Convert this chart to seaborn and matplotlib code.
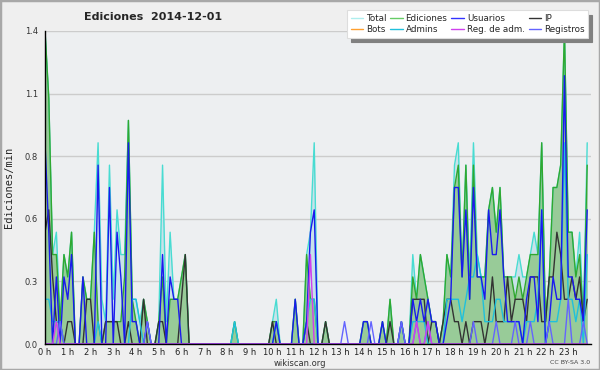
import pandas as pd
import seaborn as sns
import matplotlib.pyplot as plt
import numpy as np
from matplotlib.lines import Line2D
from matplotlib.patches import Rectangle
from matplotlib.ticker import MultipleLocator, FormatStrFormatter

# Ediciones por minuto, tramos de 10 min (12 valores = 2 horas por fila)
total = [
    1.4, 1.1, 0.4, 0.5, 0.1, 0.4, 0.3, 0.5, 0, 0, 0.3, 0.2,
    0.2, 0.5, 0.9, 0.2, 0.1, 0.8, 0.2, 0.6, 0.4, 0.4, 1.0, 0.2,
    0.2, 0.1, 0.2, 0.1, 0, 0, 0.1, 0.8, 0.1, 0.5, 0.2, 0.2,
    0.3, 0.4, 0, 0, 0, 0, 0, 0, 0, 0, 0, 0,
    0, 0, 0.1, 0, 0, 0, 0, 0, 0, 0, 0, 0,
    0.1, 0.2, 0, 0, 0, 0, 0.2, 0, 0, 0.4, 0.5, 0.9,
    0, 0, 0.1, 0, 0, 0, 0, 0, 0, 0, 0, 0,
    0.1, 0.1, 0, 0, 0, 0.1, 0, 0.2, 0, 0, 0.1, 0,
    0, 0.4, 0.2, 0.4, 0.3, 0.2, 0.1, 0.1, 0, 0.1, 0.4, 0.3,
    0.8, 0.9, 0.3, 0.8, 0.3, 0.9, 0.4, 0.3, 0.3, 0.6, 0.7, 0.5,
    0.7, 0.3, 0.3, 0.3, 0.3, 0.4, 0.3, 0.3, 0.4, 0.5, 0.4, 0.9,
    0.1, 0.3, 0.7, 0.7, 0.8, 1.4, 0.5, 0.5, 0.3, 0.5, 0.1, 0.9,
]
ediciones = [
    1.4, 1.1, 0.4, 0.4, 0.1, 0.4, 0.3, 0.5, 0, 0, 0.3, 0.2,
    0.2, 0.5, 0.1, 0, 0.1, 0.1, 0.1, 0.1, 0.1, 0.3, 1.0, 0.2,
    0.1, 0, 0.2, 0.1, 0, 0, 0.1, 0.3, 0, 0.2, 0.2, 0.2,
    0.3, 0.4, 0, 0, 0, 0, 0, 0, 0, 0, 0, 0,
    0, 0, 0.1, 0, 0, 0, 0, 0, 0, 0, 0, 0,
    0.1, 0.1, 0, 0, 0, 0, 0.2, 0, 0, 0.4, 0.2, 0.2,
    0, 0, 0.1, 0, 0, 0, 0, 0, 0, 0, 0, 0,
    0.1, 0.1, 0, 0, 0, 0.1, 0, 0.2, 0, 0, 0.1, 0,
    0, 0.3, 0.2, 0.4, 0.3, 0.2, 0.1, 0.1, 0, 0.1, 0.4, 0.3,
    0.7, 0.8, 0.3, 0.8, 0.2, 0.8, 0.3, 0.3, 0.3, 0.6, 0.7, 0.5,
    0.7, 0.3, 0.3, 0.3, 0.2, 0.3, 0.2, 0.3, 0.4, 0.4, 0.4, 0.9,
    0.1, 0.3, 0.7, 0.7, 0.8, 1.4, 0.5, 0.5, 0.3, 0.4, 0.1, 0.8,
]
usuarios = [
    0.9, 0.5, 0, 0.3, 0, 0.3, 0.2, 0.4, 0, 0, 0.3, 0,
    0, 0, 0.8, 0, 0, 0.7, 0, 0.5, 0.3, 0, 0.9, 0.1,
    0.1, 0, 0, 0.1, 0, 0, 0, 0.4, 0, 0.3, 0.2, 0.2,
    0, 0, 0, 0, 0, 0, 0, 0, 0, 0, 0, 0,
    0, 0, 0, 0, 0, 0, 0, 0, 0, 0, 0, 0,
    0, 0.1, 0, 0, 0, 0, 0.2, 0, 0, 0.1, 0.5, 0.6,
    0, 0, 0, 0, 0, 0, 0, 0, 0, 0, 0, 0,
    0.1, 0.1, 0, 0, 0, 0.1, 0, 0, 0, 0, 0.1, 0,
    0, 0.2, 0.1, 0.2, 0.1, 0.2, 0.1, 0.1, 0, 0, 0.1, 0.2,
    0.7, 0.7, 0.3, 0.6, 0.2, 0.7, 0.3, 0.3, 0.2, 0.6, 0.4, 0.4,
    0.6, 0.3, 0.1, 0.1, 0.1, 0.1, 0, 0.2, 0.3, 0.3, 0.1, 0.6,
    0, 0.1, 0.3, 0.2, 0.2, 1.2, 0.3, 0.3, 0.2, 0.2, 0.1, 0.6,
]
ip = [
    0.5, 0.6, 0.3, 0.1, 0.1, 0, 0.1, 0.1, 0, 0, 0, 0.2,
    0.2, 0, 0, 0, 0.1, 0.1, 0.1, 0.1, 0, 0, 0.1, 0,
    0, 0, 0.2, 0, 0, 0, 0.1, 0.1, 0, 0, 0, 0,
    0.2, 0.4, 0, 0, 0, 0, 0, 0, 0, 0, 0, 0,
    0, 0, 0, 0, 0, 0, 0, 0, 0, 0, 0, 0,
    0.1, 0, 0, 0, 0, 0, 0, 0, 0, 0.1, 0, 0,
    0, 0, 0.1, 0, 0, 0, 0, 0, 0, 0, 0, 0,
    0, 0, 0, 0, 0, 0, 0, 0.1, 0, 0, 0, 0,
    0, 0.2, 0.2, 0.2, 0.2, 0, 0.1, 0.1, 0, 0.1, 0.2, 0.2,
    0.1, 0.1, 0, 0.1, 0, 0.1, 0.1, 0.1, 0, 0.1, 0.3, 0.1,
    0.1, 0.1, 0.3, 0.1, 0.2, 0.2, 0.2, 0.1, 0.3, 0.3, 0.3, 0.1,
    0.1, 0.3, 0.3, 0.5, 0.4, 0.2, 0.2, 0.3, 0.2, 0.3, 0.1, 0.2,
]
admins = [
    0.2, 0.2, 0.1, 0.1, 0.1, 0, 0, 0, 0, 0, 0, 0,
    0, 0, 0.1, 0, 0, 0, 0, 0, 0, 0, 0, 0.2,
    0.2, 0.1, 0, 0, 0, 0, 0, 0, 0, 0, 0, 0,
    0, 0, 0, 0, 0, 0, 0, 0, 0, 0, 0, 0,
    0, 0, 0.1, 0, 0, 0, 0, 0, 0, 0, 0, 0,
    0, 0.1, 0, 0, 0, 0, 0, 0, 0, 0.1, 0.2, 0.2,
    0, 0, 0, 0, 0, 0, 0, 0, 0, 0, 0, 0,
    0, 0, 0, 0, 0, 0, 0, 0, 0, 0, 0, 0,
    0, 0.1, 0.1, 0.1, 0.1, 0, 0, 0, 0, 0, 0.2, 0.2,
    0.2, 0.2, 0.1, 0.2, 0.3, 0.3, 0.4, 0.3, 0.1, 0.1, 0.1, 0.2,
    0.2, 0.1, 0.1, 0.1, 0.1, 0.1, 0, 0.1, 0.1, 0.1, 0.2, 0.6,
    0, 0.1, 0.1, 0.1, 0.2, 0.9, 0.2, 0.2, 0.1, 0.2, 0, 0.4,
]
registros = [
    0, 0, 0, 0, 0.1, 0, 0, 0, 0, 0, 0, 0,
    0, 0, 0, 0, 0, 0, 0, 0, 0, 0, 0, 0,
    0, 0, 0, 0.1, 0, 0, 0, 0, 0, 0, 0, 0,
    0, 0, 0, 0, 0, 0, 0, 0, 0, 0, 0, 0,
    0, 0, 0, 0, 0, 0, 0, 0, 0, 0, 0, 0,
    0, 0, 0, 0, 0, 0, 0, 0, 0, 0, 0, 0,
    0, 0, 0, 0, 0, 0, 0, 0.1, 0, 0, 0, 0,
    0, 0, 0.1, 0, 0, 0, 0, 0, 0, 0, 0.1, 0,
    0, 0, 0.1, 0, 0, 0.1, 0, 0, 0, 0, 0, 0,
    0, 0, 0, 0, 0, 0.1, 0, 0, 0, 0, 0, 0.1,
    0, 0, 0, 0, 0.1, 0, 0, 0, 0.1, 0, 0, 0,
    0, 0.1, 0, 0, 0, 0, 0.2, 0, 0, 0, 0.1, 0,
]
reg_adm = [0] * 144
for i, v in [(3, 0.1), (70, 0.4), (98, 0.1), (101, 0.1)]:
    reg_adm[i] = v
bots = [0] * 144

series = ['Total', 'Bots', 'Ediciones', 'Admins', 'Usuarios', 'Reg. de adm.', 'IP', 'Registros']
colors = {'Total': '#48dcd2', 'Ediciones': '#30a830', 'Usuarios': '#1a1aee', 'IP': '#333333',
          'Bots': '#ffa030', 'Admins': '#20c0dc', 'Reg. de adm.': '#d040ee', 'Registros': '#6464ff'}
legend_colors = dict(colors, Total='#aeeeee', Ediciones='#66cc66', Usuarios='#3333ff')

horas = np.arange(144) / 6
df = pd.DataFrame({'hora': horas, 'Total': total, 'Ediciones': ediciones, 'Usuarios': usuarios,
                   'IP': ip, 'Bots': bots, 'Admins': admins, 'Reg. de adm.': reg_adm,
                   'Registros': registros})
long = df.melt(id_vars='hora', var_name='serie', value_name='valor')

sns.set_style('white')
plt.rcParams['font.family'] = ['DejaVu Sans']

fig = plt.figure(figsize=(6, 3.7), dpi=100, facecolor='#efefef')
ax = fig.add_axes([45 / 600, 26 / 370, 546 / 600, 313 / 370])
ax.set_facecolor('#edeff1')

# areas
ax.fill_between(df['hora'], df['Total'], color='#c8e2ea', lw=0, zorder=1)
ax.fill_between(df['hora'], df['Ediciones'], color='#98cb98', lw=0, zorder=1.1)

orden = ['Bots', 'Total', 'Ediciones', 'IP', 'Admins', 'Usuarios', 'Registros', 'Reg. de adm.']
sns.lineplot(data=long, x='hora', y='valor', hue='serie', hue_order=orden, palette=colors,
             linewidth=1.0, legend=False, ax=ax, zorder=2)

ax.set_xlim(0, 24)
ax.set_ylim(0, 1.4)
ax.yaxis.set_major_locator(MultipleLocator(0.28))
ax.yaxis.set_minor_locator(MultipleLocator(0.07))
ax.yaxis.set_major_formatter(FormatStrFormatter('%.1f'))
ax.set_xticks(range(24))
ax.set_xticklabels([f'{h} h' for h in range(24)])
ax.xaxis.set_minor_locator(MultipleLocator(1 / 6))
ax.grid(axis='y', color='#cccccc', lw=1, zorder=0)
ax.set_axisbelow(True)
for s in ['top', 'right']:
    ax.spines[s].set_visible(False)
for s in ['left', 'bottom']:
    ax.spines[s].set_color('black')
    ax.spines[s].set_linewidth(1)
    ax.spines[s].set_zorder(3)
ax.tick_params(axis='y', which='major', direction='out', length=4, width=0.8,
               labelsize=6, colors='black', labelcolor='#333333', pad=1)
ax.tick_params(axis='x', which='major', direction='out', length=3, width=0.8,
               labelsize=6, colors='black', labelcolor='#222222', pad=0)
ax.tick_params(axis='both', which='minor', direction='out', length=3, width=0.8)
ax.set_xlabel('')
ax.set_ylabel('Ediciones/min', family='DejaVu Sans Mono', fontsize=7.5, labelpad=8)

fig.text(0.255, 0.953, 'Ediciones  2014-12-01', fontsize=8, fontweight='bold', ha='center', va='center')
fig.text(0.5, 0.018, 'wikiscan.org', fontsize=6, color='#333333', ha='center', va='center')
fig.text(0.983, 0.02, 'CC BY-SA 3.0', fontsize=4.5, color='#444444', ha='right', va='center')

handles = [Line2D([], [], color=legend_colors[s], lw=1) for s in series]
leg = fig.legend(handles, series, loc='upper right', bbox_to_anchor=(0.98, 0.972), ncol=4,
                 fontsize=6.3, frameon=True, fancybox=False, shadow={'color': '#808080', 'alpha': 1, 'ox': 3, 'oy': -3},
                 handlelength=1.4, handletextpad=0.35, columnspacing=0.45, labelspacing=0.3,
                 borderpad=0.4, borderaxespad=0)
leg.get_frame().set_edgecolor('#dddddd')
leg.get_frame().set_facecolor('white')
leg.get_frame().set_linewidth(0.8)

fig.patches.append(Rectangle((0, 0), 1, 1, transform=fig.transFigure, fill=False,
                             edgecolor='#a8a8a8', lw=2.5))

fig.savefig('out.png', dpi=100, facecolor=fig.get_facecolor())
